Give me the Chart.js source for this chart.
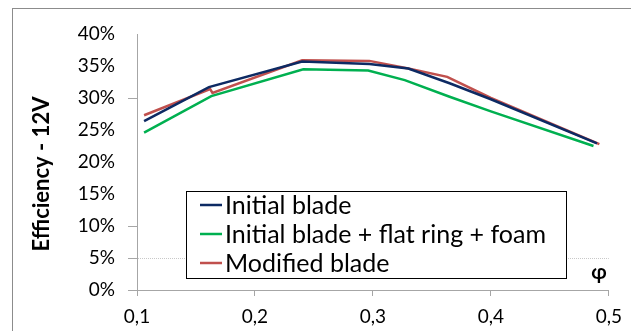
<!DOCTYPE html>
<html>
<head>
<meta charset="utf-8">
<script src="https://cdn.jsdelivr.net/npm/chart.js@4/dist/chart.umd.min.js"></script>
<style>
  html, body { margin: 0; padding: 0; background: #fff; }
  #wrap { position: relative; width: 631px; height: 331px; }
  #frame { position: absolute; left: 12px; top: 8px; right: 0; bottom: 0; border-left: 1px solid #8c8c8c; border-top: 1px solid #8c8c8c; }
  canvas { position: absolute; left: 0; top: 0; }
</style>
</head>
<body>
<div id="wrap">
  <div id="frame"></div>
  <canvas id="chart" width="631" height="331"></canvas>
</div>
<script>
// values (phi, efficiency %)
var phiInitial = [0.106, 0.161, 0.240, 0.297, 0.330, 0.365, 0.400, 0.490];
var effInitial = [26.4, 31.7, 35.7, 35.3, 34.6, 32.3, 29.8, 22.9];

var phiRing = [0.106, 0.163, 0.241, 0.296, 0.327, 0.365, 0.400, 0.487];
var effRing = [24.6, 30.3, 34.5, 34.3, 32.8, 30.2, 27.9, 22.5];

var phiModified = [0.106, 0.162, 0.164, 0.240, 0.297, 0.330, 0.363, 0.400, 0.492];
var effModified = [27.3, 31.4, 30.8, 35.9, 35.8, 34.6, 33.3, 30.0, 22.8];

var seriesNames = ['Initial blade', 'Initial blade + flat ring + foam', 'Modified blade'];
var seriesColors = ['#0d2a63', '#00b050', '#c0504d'];
var yTickMarks = [0, 5, 10, 30];

function pts(xs, ys) {
  return xs.map(function(x, i) { return {x: x, y: ys[i]}; });
}

var font = 'Lato';

// legend box, axis title and phi label drawn on the canvas
var extras = {
  id: 'extras',
  afterDraw: function(chart) {
    var ctx = chart.ctx;
    ctx.save();
    // y title
    ctx.translate(42, 174);
    ctx.rotate(-Math.PI / 2);
    ctx.font = 'bold 22px ' + font;
    ctx.fillStyle = '#000';
    ctx.textAlign = 'center';
    ctx.textBaseline = 'middle';
    ctx.fillText('Efficiency - 12V', 0, 0);
    ctx.restore();

    ctx.save();
    ctx.font = 'bold 20px ' + font;
    ctx.fillStyle = '#000';
    ctx.textAlign = 'center';
    ctx.textBaseline = 'middle';
    ctx.fillText('\u03c6', 599, 273);

    // legend
    ctx.fillStyle = '#fff';
    ctx.fillRect(186, 191, 380, 87);
    ctx.strokeStyle = '#000';
    ctx.lineWidth = 1;
    ctx.strokeRect(186.5, 191.5, 380, 87);
    ctx.font = '25px ' + font;
    ctx.textAlign = 'left';
    chart.data.datasets.forEach(function(ds, i) {
      var y = 205 + i * 29;
      ctx.strokeStyle = ds.borderColor;
      ctx.lineWidth = 2.5;
      ctx.beginPath();
      ctx.moveTo(200, y);
      ctx.lineTo(222, y);
      ctx.stroke();
      ctx.fillStyle = '#000';
      ctx.fillText(ds.label, 225, y + 1);
    });
    ctx.restore();
  }
};

var data = {
  datasets: [
    { label: seriesNames[0], data: pts(phiInitial, effInitial), borderColor: seriesColors[0] },
    { label: seriesNames[1], data: pts(phiRing, effRing), borderColor: seriesColors[1] },
    { label: seriesNames[2], data: pts(phiModified, effModified), borderColor: seriesColors[2] }
  ]
};

var config = {
  type: 'line',
  data: data,
  options: {
    responsive: false,
    animation: false,
    layout: { padding: { left: 14, right: 19, top: 34, bottom: 0 } },
    elements: {
      line: { borderWidth: 2.5, tension: 0, fill: false },
      point: { radius: 0 }
    },
    plugins: { legend: { display: false }, tooltip: { enabled: false } },
    scales: {
      x: {
        type: 'linear',
        min: 0.1, max: 0.5,
        afterFit: function(s) { s.height = 41; },
        ticks: {
          stepSize: 0.1,
          color: '#000',
          font: { family: font, size: 19 },
          padding: 9,
          maxRotation: 0,
          callback: function(v) { return v.toFixed(1).replace('.', ','); }
        },
        grid: { display: true, drawOnChartArea: false, tickLength: 6, color: '#a6a6a6' },
        border: { color: '#a6a6a6', width: 1 }
      },
      y: {
        min: 0, max: 40,
        afterFit: function(s) { s.width = 123; },
        ticks: {
          stepSize: 5,
          color: '#000',
          font: { family: font, size: 19 },
          padding: 13,
          callback: function(v) { return v + '%'; }
        },
        grid: {
          tickLength: 9,
          color: function(c) { return c.tick && c.tick.value === 5 ? '#c8c8c8' : 'rgba(0,0,0,0)'; },
          tickColor: function(c) { return c.tick && yTickMarks.indexOf(c.tick.value) >= 0 ? '#a6a6a6' : 'rgba(0,0,0,0)'; }
        },
        border: { color: '#a6a6a6', width: 1, dash: [1, 1] }
      }
    }
  },
  plugins: [extras]
};

var chart = new Chart(document.getElementById('chart'), config);
</script>
</body>
</html>
